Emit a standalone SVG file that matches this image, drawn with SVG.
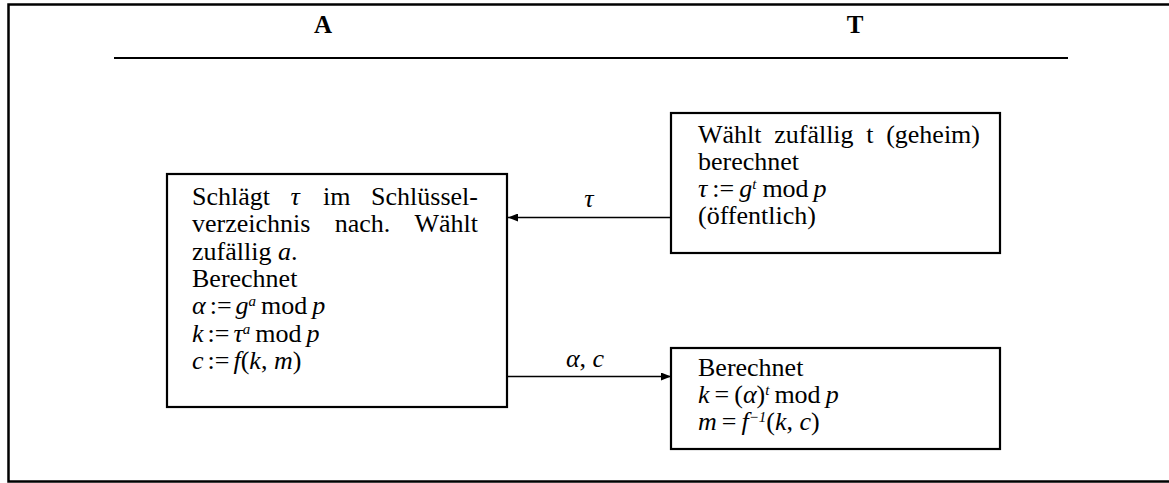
<svg xmlns="http://www.w3.org/2000/svg" width="1169" height="483" viewBox="0 0 1169 483">
  <style>
    text { font-family: "Liberation Serif", "Times New Roman", serif; font-size: 26px; fill: #000; }
    .i { font-style: italic; }
    .sup { font-size: 15px; font-style: italic; }
    .head { font-weight: bold; font-size: 25px; text-anchor: middle; }
    .box { fill: #fff; stroke: #000; stroke-width: 2.2; }
    .frame { fill: none; stroke: #000; stroke-width: 2.5; }
    .link { fill: none; stroke: #000; stroke-width: 1.4; }
  </style>
  <defs>
    <marker id="head" viewBox="0 0 10 8" refX="10" refY="4" markerWidth="10" markerHeight="8" markerUnits="userSpaceOnUse" orient="auto">
      <path d="M0,0 L10,4 L0,8 Z" fill="#000"/>
    </marker>
  </defs>

  <!-- outer frame (right side runs off the page) -->
  <path class="frame" d="M1175,4.5 H8.5 V481.5 H1175"/>

  <!-- column headings -->
  <g id="headings">
    <text class="head" x="323" y="33">A</text>
    <text class="head" x="855" y="33">T</text>
    <line x1="114" y1="58" x2="1068" y2="58" stroke="#000" stroke-width="2"/>
  </g>

  <!-- connectors -->
  <g id="connectors">
    <line class="link" x1="671" y1="217.5" x2="508" y2="217.5" marker-end="url(#head)"/>
    <text class="i" x="589" y="207" text-anchor="middle">τ</text>
    <line class="link" x1="508" y1="376.5" x2="671" y2="376.5" marker-end="url(#head)"/>
    <text x="585" y="367" text-anchor="middle"><tspan class="i">α</tspan>, <tspan class="i">c</tspan></text>
  </g>

  <!-- party A -->
  <g id="node-a">
    <rect class="box" x="167" y="174" width="340" height="233"/>
    <text x="192" y="205">Schlägt</text>
    <text class="i" x="290.5" y="205">τ</text>
    <text x="323" y="205">im</text>
    <text x="478" y="205" text-anchor="end">Schlüssel-</text>
    <text x="192" y="232.3">verzeichnis</text>
    <text x="334.7" y="232.3">nach.</text>
    <text x="478" y="232.3" text-anchor="end">Wählt</text>
    <text x="192" y="259.6">zufällig <tspan class="i">a</tspan>.</text>
    <text x="192" y="286.9">Berechnet</text>
    <text x="192" y="314.2"><tspan class="i">α</tspan><tspan dx="4">:=</tspan><tspan class="i" dx="4">g</tspan><tspan class="sup" dy="-8">a</tspan><tspan dy="8" dx="5">mod</tspan><tspan class="i" dx="5">p</tspan></text>
    <text x="192" y="341.5"><tspan class="i">k</tspan><tspan dx="4">:=</tspan><tspan class="i" dx="4">τ</tspan><tspan class="sup" dy="-8">a</tspan><tspan dy="8" dx="5">mod</tspan><tspan class="i" dx="5">p</tspan></text>
    <text x="192" y="368.8"><tspan class="i">c</tspan><tspan dx="4">:=</tspan><tspan class="i" dx="4">f</tspan>(<tspan class="i">k</tspan>, <tspan class="i">m</tspan>)</text>
  </g>

  <!-- party T, key generation -->
  <g id="node-t-key">
    <rect class="box" x="671" y="113" width="329" height="140"/>
    <text x="698" y="142.5">Wählt</text>
    <text x="774.2" y="142.5">zufällig</text>
    <text x="866.3" y="142.5">t</text>
    <text x="980" y="142.5" text-anchor="end">(geheim)</text>
    <text x="698" y="169.8">berechnet</text>
    <text x="698" y="197.1"><tspan class="i">τ</tspan><tspan dx="5">:=</tspan><tspan class="i" dx="5">g</tspan><tspan class="sup" dy="-8">t</tspan><tspan dy="8" dx="6">mod</tspan><tspan class="i" dx="5">p</tspan></text>
    <text x="698" y="224.4">(öffentlich)</text>
  </g>

  <!-- party T, decryption -->
  <g id="node-t-dec">
    <rect class="box" x="671" y="348" width="329" height="101"/>
    <text x="698" y="375.7">Berechnet</text>
    <text x="698" y="403"><tspan class="i">k</tspan><tspan dx="5">=</tspan><tspan dx="5">(</tspan><tspan class="i">α</tspan>)<tspan class="sup" dy="-8">t</tspan><tspan dy="8" dx="5">mod</tspan><tspan class="i" dx="5">p</tspan></text>
    <text x="698" y="430.3"><tspan class="i">m</tspan><tspan dx="5">=</tspan><tspan class="i" dx="5">f</tspan><tspan class="sup" dy="-8" font-style="normal">−1</tspan><tspan dy="8">(</tspan><tspan class="i">k</tspan>, <tspan class="i">c</tspan>)</text>
  </g>
</svg>
